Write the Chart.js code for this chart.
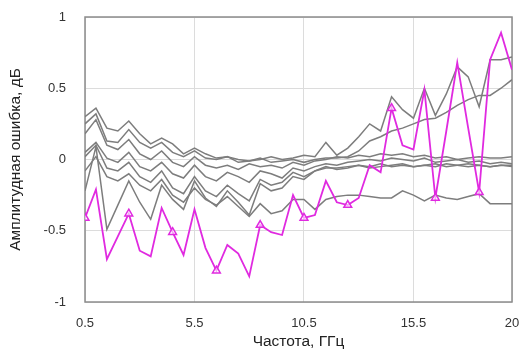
<!DOCTYPE html>
<html>
<head>
<meta charset="utf-8">
<script src="https://cdn.jsdelivr.net/npm/chart.js@4"></script>
<style>
  html, body { margin: 0; padding: 0; background: #fff; }
  #wrap { width: 522px; height: 353px; }
</style>
</head>
<body>
<div id="wrap"><canvas id="grafico" width="522" height="353"></canvas></div>
<script>
// частоты, ГГц
const freq = [0.5, 1, 1.5, 2, 2.5, 3, 3.5, 4, 4.5, 5,
              5.5, 6, 6.5, 7, 7.5, 8, 8.5, 9, 9.5, 10,
              10.5, 11, 11.5, 12, 12.5, 13, 13.5, 14, 14.5, 15,
              15.5, 16, 16.5, 17, 17.5, 18, 18.5, 19, 19.5, 20];
const xTicks = [0.5, 5.5, 10.5, 15.5, 20];

// выделенная кривая (маркеры через каждые 2 ГГц)
const magenta = [-0.41, -0.21, -0.70, -0.54, -0.38, -0.64, -0.68, -0.34, -0.51, -0.67,
                 -0.35, -0.62, -0.78, -0.60, -0.66, -0.82, -0.46, -0.51, -0.53, -0.25,
                 -0.41, -0.39, -0.15, -0.30, -0.32, -0.27, -0.04, -0.09, 0.36, 0.10,
                 0.07, 0.49, -0.27, 0.20, 0.68, 0.22, -0.23, 0.70, 0.89, 0.63];

// серые кривые
const gray1 = [0.30, 0.36, 0.22, 0.20, 0.27, 0.18, 0.11, 0.15, 0.11, 0.04,
               0.08, 0.04, 0.01, 0.02, 0.00, -0.01, 0.00, 0.02, 0.00, 0.01,
               0.03, 0.02, 0.12, 0.03, 0.08, 0.16, 0.25, 0.20, 0.44, 0.35,
               0.29, 0.50, 0.31, 0.46, 0.65, 0.58, 0.37, 0.70, 0.70, 0.72];
const gray2 = [0.25, 0.32, 0.13, 0.12, 0.21, 0.12, 0.08, 0.12, 0.05, 0.02,
               0.06, 0.01, 0.00, 0.02, -0.02, -0.01, 0.01, -0.02, -0.01, 0.00,
               -0.02, 0.00, 0.01, 0.01, 0.02, 0.06, 0.13, 0.16, 0.20, 0.22,
               0.25, 0.28, 0.29, 0.33, 0.38, 0.42, 0.45, 0.45, 0.50, 0.56];
const gray3 = [0.18, 0.28, 0.10, 0.07, 0.14, 0.04, 0.00, 0.06, -0.02, -0.05,
               0.02, -0.04, -0.06, -0.04, -0.07, -0.03, -0.05, -0.04, -0.06, -0.02,
               -0.04, -0.01, 0.00, 0.02, 0.01, 0.03, 0.02, 0.04, 0.03, 0.04,
               0.02, 0.03, 0.01, 0.02, 0.00, 0.01, 0.02, 0.01, 0.01, 0.02];
const gray4 = [0.05, 0.12, 0.01, -0.02, 0.05, -0.05, -0.08, -0.02, -0.10, -0.13,
               -0.04, -0.12, -0.15, -0.09, -0.12, -0.16, -0.08, -0.10, -0.13, -0.06,
               -0.08, -0.05, -0.03, -0.04, -0.02, -0.01, 0.00, -0.01, 0.01, 0.00,
               -0.01, 0.01, -0.02, -0.01, 0.00, -0.02, -0.01, -0.03, -0.02, -0.03];
const gray5 = [0.02, 0.10, -0.06, -0.08, -0.02, -0.12, -0.16, -0.08, -0.20, -0.24,
               -0.12, -0.22, -0.26, -0.18, -0.24, -0.29, -0.14, -0.18, -0.16, -0.09,
               -0.12, -0.08, -0.06, -0.06, -0.05, -0.04, -0.05, -0.03, -0.05, -0.04,
               -0.05, -0.04, -0.03, -0.05, -0.04, -0.03, -0.04, -0.05, -0.04, -0.05];
const gray6 = [-0.22, 0.09, -0.49, -0.32, -0.15, -0.30, -0.42, -0.18, -0.28, -0.35,
               -0.15, -0.27, -0.33, -0.22, -0.30, -0.39, -0.17, -0.22, -0.20, -0.12,
               -0.14, -0.08, -0.05, -0.07, -0.06, -0.04, -0.06, -0.05, -0.04, -0.03,
               -0.05, -0.04, -0.05, -0.03, -0.04, -0.05, -0.04, -0.05, -0.04, -0.04];
const gray7 = [-0.08, 0.02, -0.12, -0.15, -0.10, -0.18, -0.22, -0.14, -0.25, -0.30,
               -0.20, -0.28, -0.32, -0.26, -0.33, -0.40, -0.31, -0.38, -0.36, -0.28,
               -0.28, -0.35, -0.28, -0.26, -0.25, -0.25, -0.26, -0.27, -0.27, -0.22,
               -0.25, -0.29, -0.25, -0.27, -0.28, -0.26, -0.24, -0.31, -0.31, -0.31];

const grays = [gray1, gray2, gray3, gray4, gray5, gray6, gray7];

function pares(vals) {
    return vals.map((v, i) => ({ x: freq[i], y: v }));
}

// рамка вокруг области графика
const moldura = {
    id: 'moldura',
    beforeDatasetsDraw(chart) {
        const { ctx, chartArea: a } = chart;
        ctx.save();
        ctx.strokeStyle = '#8c8c8c';
        ctx.lineWidth = 1.5;
        ctx.strokeRect(a.left, a.top, a.right - a.left, a.bottom - a.top);
        ctx.restore();
    }
};

const fonte = { family: "'Liberation Sans', Arial, sans-serif", size: 13 };
const fonteTitulo = { family: "'Liberation Sans', Arial, sans-serif", size: 15.5 };

const datasets = [{
    data: pares(magenta),
    borderColor: '#e02ae0',
    borderWidth: 1.8,
    pointStyle: 'triangle',
    pointRadius: ctx => (ctx.dataIndex % 4 === 0 ? 4.5 : 0),
    pointBorderColor: '#e02ae0',
    pointBackgroundColor: 'rgba(255,255,255,0.6)',
    pointBorderWidth: 1.5,
    tension: 0,
    order: 0
}];
grays.forEach(g => {
    datasets.push({
        data: pares(g),
        borderColor: '#7d7d7d',
        borderWidth: 1.5,
        pointRadius: 0,
        tension: 0,
        order: 1
    });
});

new Chart(document.getElementById('grafico').getContext('2d'), {
    type: 'line',
    data: { datasets: datasets },
    options: {
        responsive: false,
        animation: false,
        layout: { padding: { top: 17, right: 10, left: 0, bottom: 0 } },
        plugins: { legend: { display: false }, tooltip: { enabled: false } },
        scales: {
            x: {
                type: 'linear',
                min: 0.5,
                max: 20,
                afterBuildTicks: scale => { scale.ticks = xTicks.map(v => ({ value: v })); },
                afterFit: scale => {
                    scale.height = 51;
                    scale.paddingLeft = 0;
                    scale.paddingRight = 0;
                },
                grid: { color: '#dcdcdc', drawTicks: false },
                border: { display: false },
                ticks: { color: '#333', font: fonte, padding: 14, maxRotation: 0, callback: v => String(v) },
                title: { display: true, text: 'Частота, ГГц', color: '#222', font: fonteTitulo, padding: { top: 0, bottom: 2 } }
            },
            y: {
                min: -1,
                max: 1,
                afterFit: scale => {
                    scale.width = 85;
                    scale.paddingTop = 0;
                    scale.paddingBottom = 0;
                },
                grid: { color: '#dcdcdc', drawTicks: false },
                border: { display: false },
                ticks: { stepSize: 0.5, color: '#333', font: fonte, padding: 19, callback: v => String(v) },
                title: { display: true, text: 'Амплитудная ошибка, дБ', color: '#222', font: fonteTitulo, padding: { top: 6, bottom: 0 } }
            }
        }
    },
    plugins: [moldura]
});
</script>
</body>
</html>
